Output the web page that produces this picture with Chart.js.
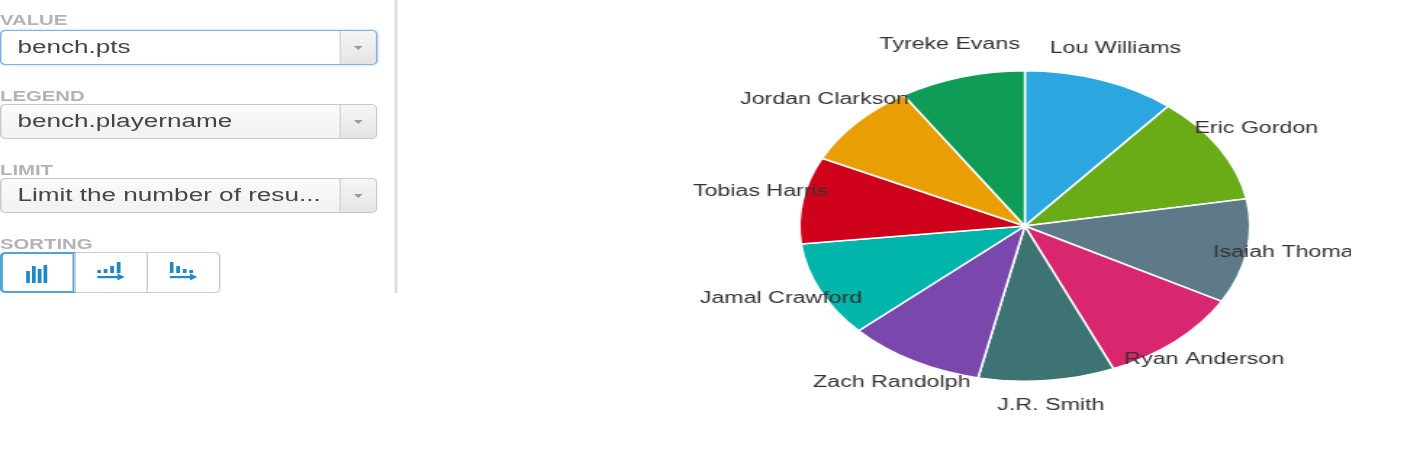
<!DOCTYPE html>
<html>
<head>
<meta charset="utf-8">
<script src="https://cdn.jsdelivr.net/npm/chart.js@4.4.1/dist/chart.umd.min.js"></script>
<style>
    html, body { margin: 0; padding: 0; background: #fff; overflow: hidden; }
    body { width: 1407px; height: 452px; font-family: "Liberation Sans", Arial, sans-serif; }
    /* the reference is a horizontally stretched screenshot */
    #stage { position: absolute; left: 0; top: 0; width: 970px; height: 452px; transform: scaleX(1.4505); transform-origin: 0 0; }
    .lbl { position: absolute; left: 0; font-size: 14px; font-weight: bold; color: #b3b3b3; }
    .sel { position: absolute; left: 0; width: 260px; height: 35px; box-sizing: border-box; border: 1px solid #c8c8c8; border-radius: 4px;
           background: linear-gradient(#fbfbfb, #f1f1f1); font-size: 18px; color: #454545; line-height: 33px; padding-left: 11px; }
    .sel.focus { border-color: #7fb0e6; background: #fff; box-shadow: 0 0 2px rgba(80, 140, 220, 0.5); }
    .sel .arr { position: absolute; right: 0; top: 0; width: 24px; height: 33px; border-left: 1px solid #c8c8c8;
                background: linear-gradient(#f6f6f6, #e4e4e4); border-radius: 0 3px 3px 0; }
    .sel .arr:after { content: ""; position: absolute; left: 9px; top: 15px; border-left: 3px solid transparent; border-right: 3px solid transparent; border-top: 4px solid #999; }
    #sortgrp { position: absolute; left: 0; top: 252px; width: 152px; height: 41px; box-sizing: border-box; border: 1px solid #ccc; border-radius: 4px; }
    .sbtn { position: absolute; top: 0; height: 39px; width: 50px; box-sizing: border-box; }
    .sbtn svg { position: absolute; top: 9px; }
    #divider { position: absolute; left: 272px; top: 0; width: 1.5px; height: 293px; background: #dedede; }
    #chartClip { position: absolute; left: 280px; top: 0; width: 651px; height: 452px; overflow: hidden; }
    #chartBox { position: absolute; left: 0; top: 0; width: 853px; height: 452px; }
</style>
</head>
<body>
<div id="stage">
    <div class="lbl" style="top:12px">VALUE</div>
    <div class="sel focus" style="top:30px">bench.pts<div class="arr"></div></div>
    <div class="lbl" style="top:88px">LEGEND</div>
    <div class="sel" style="top:104px">bench.playername<div class="arr"></div></div>
    <div class="lbl" style="top:162px">LIMIT</div>
    <div class="sel" style="top:178px">Limit the number of resu...<div class="arr"></div></div>
    <div class="lbl" style="top:236px">SORTING</div>
    <div id="sortgrp">
        <div class="sbtn" style="left:-1px;top:-1px;height:41px;width:52px;border:2px solid #4fa3d9;border-radius:4px 0 0 4px">
            <svg width="15" height="19" viewBox="0 0 15 19" style="left:16px;top:10px"><g fill="#1f88c6"><rect x="0" y="7" width="2.6" height="12"/><rect x="4" y="2" width="2.6" height="17"/><rect x="8" y="5" width="2.6" height="14"/><rect x="12" y="1" width="2.6" height="18"/></g></svg>
        </div>
        <div class="sbtn" style="left:50px;border-left:1px solid #ccc">
            <svg width="19" height="19" viewBox="0 0 19 19" style="left:15px"><g fill="#1f88c6"><rect x="0" y="8" width="2.6" height="3"/><rect x="4.5" y="7" width="2.6" height="4"/><rect x="9" y="4" width="2.6" height="7"/><rect x="13.5" y="0" width="2.6" height="11"/><rect x="0" y="14" width="15" height="2.2"/><path d="M14 11.5 L19 15 L14 18.5 Z"/></g></svg>
        </div>
        <div class="sbtn" style="left:100px;border-left:1px solid #ccc">
            <svg width="19" height="19" viewBox="0 0 19 19" style="left:15px"><g fill="#1f88c6"><rect x="0" y="0" width="2.6" height="11"/><rect x="4.5" y="4" width="2.6" height="7"/><rect x="9" y="7" width="2.6" height="4"/><rect x="13.5" y="8" width="2.6" height="3"/><rect x="0" y="14" width="15" height="2.2"/><path d="M14 11.5 L19 15 L14 18.5 Z"/></g></svg>
        </div>
    </div>
    <div id="divider"></div>
    <div id="chartClip"><div id="chartBox"><canvas id="pie"></canvas></div></div>
</div>
<script>
// Data (bench points per player)
const players = ['Lou Williams', 'Eric Gordon', 'Isaiah Thomas', 'Ryan Anderson', 'J.R. Smith',
    'Zach Randolph', 'Jamal Crawford', 'Tobias Harris', 'Jordan Clarkson', 'Tyreke Evans'];
const benchPts = [19.8, 20.2, 19.6, 18.9, 17.6, 17.8, 17.9, 16.3, 15.8, 16.3];
const sliceColors = ['#2ca6df', '#69ac17', '#5e7a88', '#d9276f', '#3d7372',
    '#7a48ad', '#02b5ab', '#d0021b', '#e99e03', '#0f9c57'];

// Draw names outside each slice
const outsideLabels = {
    id: 'outsideLabels',
    afterDatasetsDraw(chart) {
        const ctx = chart.ctx;
        const meta = chart.getDatasetMeta(0);
        ctx.save();
        ctx.font = '16px "Liberation Sans", Arial, sans-serif';
        ctx.fillStyle = '#333';
        ctx.textAlign = 'center';
        ctx.textBaseline = 'middle';
        meta.data.forEach((arc, i) => {
            const p = arc.getProps(['x', 'y', 'startAngle', 'endAngle', 'outerRadius'], true);
            const mid = (p.startAngle + p.endAngle) / 2;
            const r = p.outerRadius * 1.19;
            ctx.fillText(chart.data.labels[i], p.x + r * Math.cos(mid), p.y + r * Math.sin(mid) - 4);
        });
        ctx.restore();
    }
};

new Chart(document.getElementById('pie'), {
    type: 'pie',
    data: {
        labels: players,
        datasets: [{
            data: benchPts,
            backgroundColor: sliceColors,
            borderColor: '#fff',
            borderWidth: 1.5
        }]
    },
    options: {
        responsive: true,
        maintainAspectRatio: false,
        animation: false,
        layout: { padding: { top: 70, bottom: 70, left: 0, right: 0 } },
        plugins: {
            legend: { display: false },
            tooltip: { enabled: false }
        }
    },
    plugins: [outsideLabels]
});
</script>
</body>
</html>
